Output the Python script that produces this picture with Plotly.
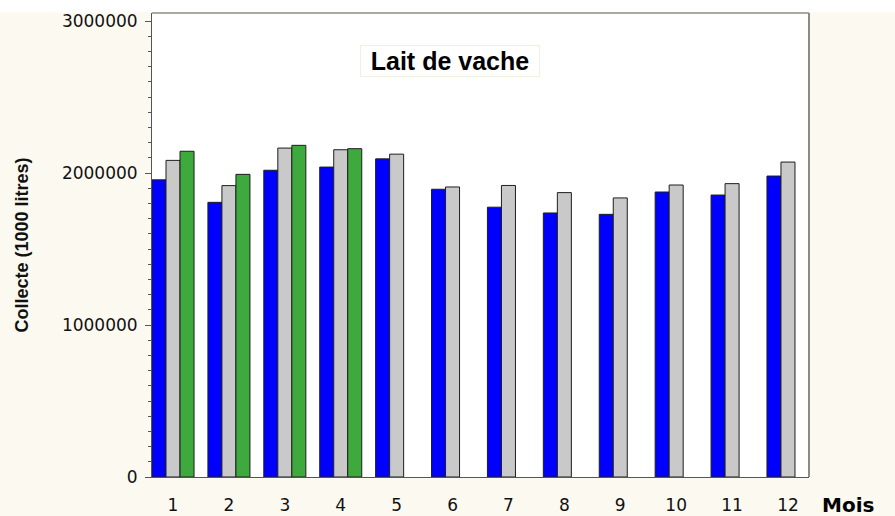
import plotly.graph_objects as go

months = [1, 2, 3, 4, 5, 6, 7, 8, 9, 10, 11, 12]
month_labels = ["1", "2", "3", "4", "5", "6", "7", "8", "9", "10", "11", "12"]
serie_bleue = [1955000, 1807000, 2018000, 2039000, 2093000, 1893000, 1775000, 1737000, 1728000, 1875000, 1855000, 1980000]
serie_grise = [2083000, 1917000, 2164000, 2153000, 2124000, 1908000, 1918000, 1871000, 1836000, 1921000, 1930000, 2072000]
mois_verts = [1, 2, 3, 4]
serie_verte = [2143000, 1991000, 2182000, 2160000]
y_ticks = [0, 1000000, 2000000, 3000000]
y_tick_labels = ["0", "1000000", "2000000", "3000000"]

BEIGE = "#FCF9F1"
line_style = dict(color="#1e1e1e", width=1)

fig = go.Figure()
fig.add_trace(go.Bar(x=months, y=serie_bleue, marker=dict(color="#0000FF", line=line_style), name="a"))
fig.add_trace(go.Bar(x=months, y=serie_grise, marker=dict(color="#C9C9C9", line=line_style), name="b"))
fig.add_trace(go.Bar(x=mois_verts, y=serie_verte, marker=dict(color="#3EAA3E", line=line_style), name="c"))

L, R, T, B = 152, 86, 13, 39
W, H = 895, 516
pw, ph = W - L - R, H - T - B

fig.update_layout(
    width=W, height=H,
    margin=dict(l=L, r=R, t=T, b=B, pad=0, autoexpand=False),
    paper_bgcolor=BEIGE,
    plot_bgcolor="white",
    barmode="group",
    bargap=0.248,
    bargroupgap=0,
    showlegend=False,
    font=dict(family="DejaVu Sans, Liberation Sans, Arial", color="#111111", size=17),
)
fig.update_xaxes(
    range=[0.624, 12.376],
    tickvals=months, ticktext=month_labels,
    ticks="", showgrid=False, zeroline=False,
    showline=True, linecolor="#555555", linewidth=1,
    tickfont=dict(size=17),
    ticklabelstandoff=13,
    automargin=False,
)
fig.update_yaxes(
    range=[0, 3052600],
    tickvals=y_ticks, ticktext=y_tick_labels,
    ticks="outside", ticklen=6, tickcolor="#555555", tickwidth=1,
    minor=dict(dtick=100000, ticks="outside", ticklen=3.5, tickcolor="#555555", tickwidth=1, showgrid=False),
    showgrid=False, zeroline=False,
    showline=True, linecolor="#555555", linewidth=1,
    tickfont=dict(size=17),
    ticklabelstandoff=4,
    automargin=False,
    title=dict(text="<b>Collecte (1000 litres)</b>",
               font=dict(family="Liberation Sans, Arial", size=18, color="#111111"),
               standoff=28),
)

# white band at the top of the picture
fig.add_shape(type="rect", xref="paper", yref="paper",
              x0=-L / pw, x1=1 + R / pw, y0=1.0015, y1=1 + (T + 2) / ph,
              fillcolor="white", line=dict(width=0), layer="above")
# top and right frame
fig.add_shape(type="line", xref="paper", yref="paper", x0=0, x1=1, y0=1, y1=1,
              line=dict(color="#8E8B80", width=1.5), layer="above")
fig.add_shape(type="line", xref="paper", yref="paper", x0=1, x1=1, y0=0, y1=1,
              line=dict(color="#8E8B80", width=2), layer="above")

fig.add_annotation(
    text="<b>Lait de vache</b>", xref="paper", yref="paper",
    x=(450 - L) / pw, y=(477 - 61) / ph, xanchor="center", yanchor="middle",
    showarrow=False, font=dict(family="Liberation Sans, Arial", size=25, color="#000000"),
    bgcolor="white", bordercolor="#F3EEE2", borderwidth=1, width=176, height=28,
)
fig.add_annotation(
    text="<b>Mois</b>", xref="paper", yref="paper",
    x=(820 - L) / pw, y=-(505 - 477) / ph, xanchor="left", yanchor="middle",
    showarrow=False, font=dict(family="DejaVu Sans, Liberation Sans", size=20, color="#000000"),
)

fig.write_html("out.html", config={"displayModeBar": False},
               post_script="document.body.style.margin='0';document.body.style.overflow='hidden';")
